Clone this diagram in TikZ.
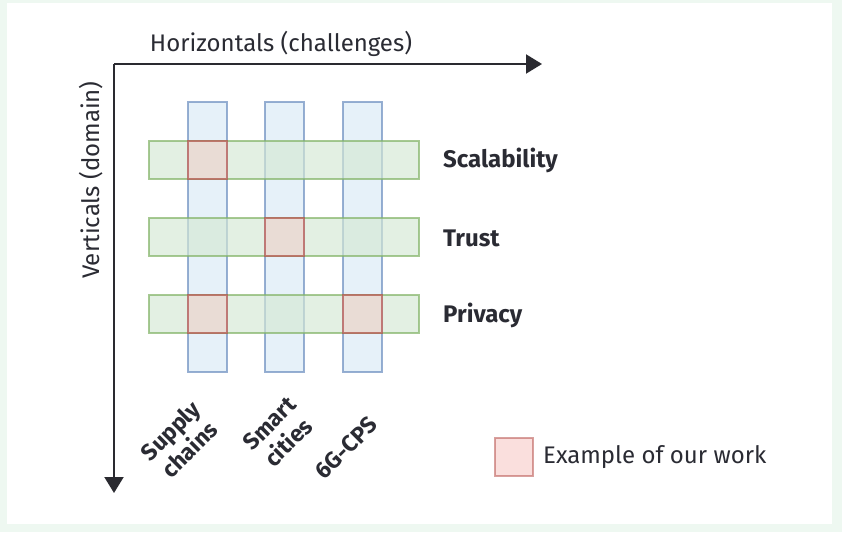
\documentclass[tikz,border=0pt]{standalone}
\usepackage{fontspec}
\setmainfont{Fira Sans}
\usetikzlibrary{arrows.meta}
\definecolor{outerbg}{HTML}{EEF8F1}
\definecolor{txt}{HTML}{2A2B33}
\definecolor{axis}{HTML}{2A2A30}
\definecolor{bfill}{HTML}{D6E8F5}
\definecolor{bdraw}{HTML}{6C8EBF}
\definecolor{gfill}{HTML}{D5E8D4}
\definecolor{gdraw}{HTML}{82B366}
\definecolor{rfill}{HTML}{F8CECC}
\definecolor{rdraw}{HTML}{B85450}
\tikzset{
  vbar/.style={draw=bdraw, draw opacity=0.7, fill=bfill, fill opacity=0.6, line width=2pt, minimum width=39pt, minimum height=270pt, inner sep=0pt},
  hbar/.style={draw=gdraw, draw opacity=0.7, fill=gfill, fill opacity=0.65, line width=2pt, minimum width=270pt, minimum height=38pt, inner sep=0pt},
  rsq/.style={draw=rdraw, draw opacity=0.7, fill=rfill, fill opacity=0.5, line width=2pt, minimum width=39pt, minimum height=38pt, inner sep=0pt},
  axisline/.style={draw=axis, line width=2pt, -{Triangle[length=16pt,width=19pt]}},
  rowlab/.style={text=txt, font=\fontsize{24}{28}\selectfont\bfseries, anchor=west, inner sep=0pt},
  collab/.style={text=txt, font=\fontsize{23}{27}\selectfont\bfseries, align=center, rotate=45, inner sep=0pt},
  plainlab/.style={text=txt, font=\fontsize{24}{28}\selectfont, inner sep=0pt},
}
\begin{document}
\begin{tikzpicture}[x=1pt,y=-1pt]
\useasboundingbox (0,0) rectangle (842,532);
\fill[outerbg] (0,0) rectangle (842,532);
\fill[white] (7,3) rectangle (832,524);
% vertical bars
\node[vbar] (v1) at (207.5,237) {};
\node[vbar] (v2) at (284.5,237) {};
\node[vbar] (v3) at (362,237) {};
% horizontal bars
\node[hbar] (h1) at (284,160) {};
\node[hbar] (h2) at (284,237) {};
\node[hbar] (h3) at (284,314) {};
% red squares
\node[rsq] (r1) at (207.5,160) {};
\node[rsq] (r2) at (284.5,237) {};
\node[rsq] (r3) at (207.5,314) {};
\node[rsq] (r4) at (362,314) {};
% axes
\coordinate (o) at (114,64);
\coordinate (xend) at (542,64);
\coordinate (yend) at (114,493);
\draw[axisline] (o) -- (xend);
\draw[axisline] (o) -- (yend);
\node[plainlab] (xl) at (281,44) {Horizontals (challenges)};
\node[plainlab, rotate=90] (yl) at (91,180) {Verticals (domain)};
% row labels
\node[rowlab] (s) at (443,160) {Scalability};
\node[rowlab] (t) at (443,238) {Trust};
\node[rowlab] (p) at (443,315) {Privacy};
% column labels
\node[collab] (c1) at (180,440) {Supply\\chains};
\node[collab] (c2) at (279,433) {Smart\\cities};
\node[collab] (c3) at (346,448) {6G-CPS};
% legend
\node[draw=rdraw, draw opacity=0.55, fill=rfill, fill opacity=0.65, line width=2pt, minimum width=38pt, minimum height=38pt, inner sep=0pt] (leg) at (514,457) {};
\node[plainlab, anchor=west] (legt) at (543,457) {Example of our work};
\end{tikzpicture}
\end{document}
